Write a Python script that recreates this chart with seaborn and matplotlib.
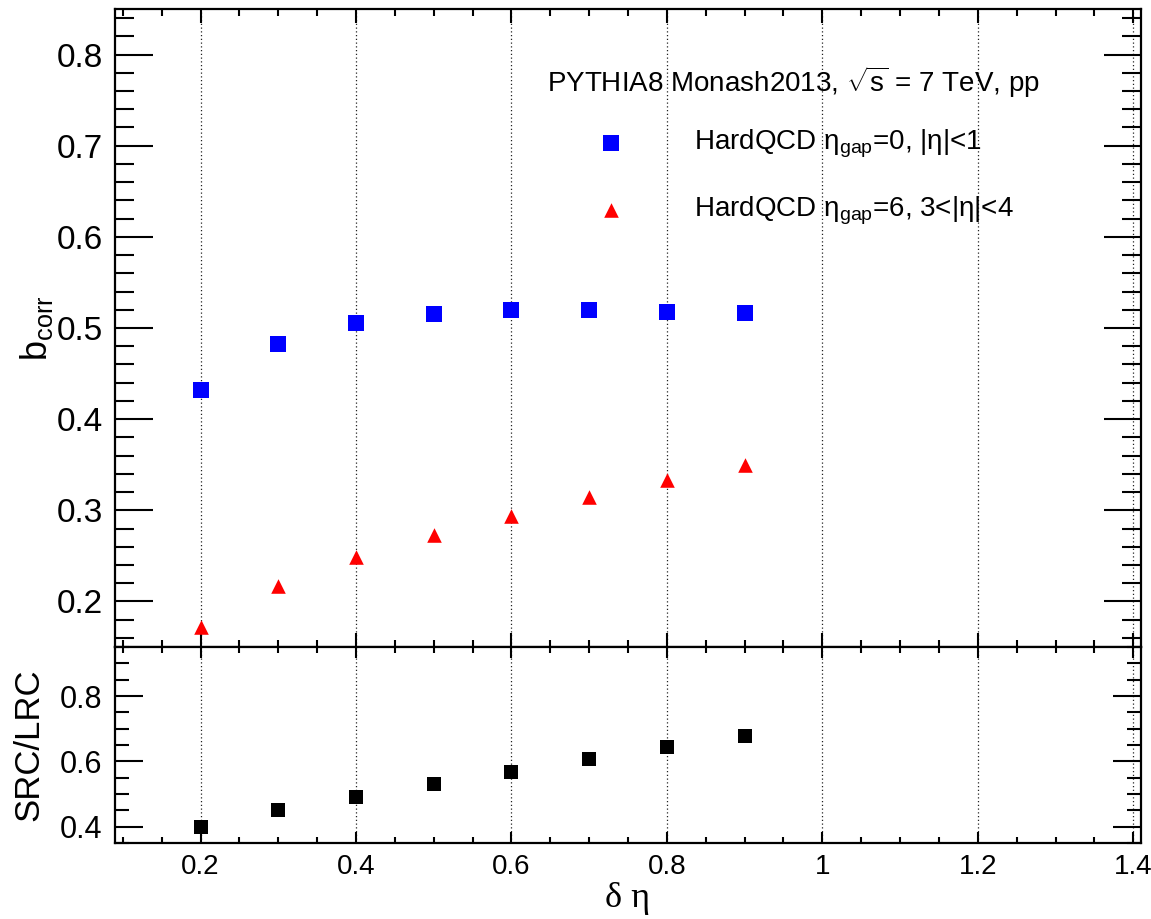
import matplotlib
matplotlib.use("Agg")
import matplotlib.pyplot as plt
import matplotlib.ticker as mticker
import pandas as pd
import seaborn as sns

# Values
delta_eta = [0.2, 0.3, 0.4, 0.5, 0.6, 0.7, 0.8, 0.9]
b_corr_gap0 = [0.432, 0.482, 0.505, 0.515, 0.520, 0.520, 0.518, 0.517]
b_corr_gap6 = [0.172, 0.217, 0.249, 0.273, 0.294, 0.315, 0.333, 0.350]
src_lrc = [0.400, 0.451, 0.492, 0.531, 0.567, 0.608, 0.643, 0.679]

label_gap0 = r"HardQCD η$_{\mathregular{gap}}$=0, |η|<1"
label_gap6 = r"HardQCD η$_{\mathregular{gap}}$=6, 3<|η|<4"
header = r"PYTHIA8 Monash2013, $\sqrt{\mathregular{s}}$ = 7 TeV, pp"

sns.set_theme(style="ticks", rc={"text.color": "black", "axes.labelcolor": "black",
                                 "xtick.color": "black", "ytick.color": "black",
                                 "axes.edgecolor": "black"})
plt.rcParams["font.family"] = ["Liberation Sans", "DejaVu Sans"]
plt.rcParams["mathtext.fontset"] = "custom"
plt.rcParams["mathtext.rm"] = "Liberation Sans"
plt.rcParams["mathtext.it"] = "Liberation Sans:italic"
plt.rcParams["axes.linewidth"] = 1.6

top_df = pd.DataFrame({"delta_eta": delta_eta, "gap0": b_corr_gap0, "gap6": b_corr_gap6})
low_df = pd.DataFrame({"delta_eta": delta_eta, "ratio": src_lrc})

W, H = 1151, 919
fig = plt.figure(figsize=(W / 100, H / 100), dpi=100)
left, right = 115 / W, 1141 / W
ax_top = fig.add_axes([left, 1 - 647 / H, right - left, (647 - 9) / H])
ax_low = fig.add_axes([left, 1 - 843 / H, right - left, (843 - 647) / H], sharex=ax_top)

sns.scatterplot(data=top_df, x="delta_eta", y="gap0", ax=ax_top, marker="s", s=121,
                color="#0000ff", linewidth=0, label=label_gap0, zorder=3)
sns.scatterplot(data=top_df, x="delta_eta", y="gap6", ax=ax_top, marker="^", s=110,
                color="#ff0000", linewidth=0, label=label_gap6, zorder=3)
sns.scatterplot(data=low_df, x="delta_eta", y="ratio", ax=ax_low, marker="s", s=115,
                color="black", linewidth=0, zorder=3)

ax_top.set_xlim(0.09, 1.41)
ax_top.set_ylim(0.15, 0.85)
ax_low.set_ylim(0.35, 0.95)

fmt = mticker.FuncFormatter(lambda v, p: f"{v:g}")
for ax in (ax_top, ax_low):
    ax.xaxis.set_major_locator(mticker.MultipleLocator(0.2))
    ax.xaxis.set_minor_locator(mticker.MultipleLocator(0.05))
    ax.xaxis.set_major_formatter(fmt)
    ax.yaxis.set_major_formatter(fmt)
    ax.grid(axis="x", which="major", linestyle=(0, (1, 2)), linewidth=0.9, color="#222222")
    ax.tick_params(which="both", direction="in", top=True, right=True, width=1.5,
                   color="black", labelcolor="black")
    for s in ax.spines.values():
        s.set_linewidth(1.6)
        s.set_color("black")
    ax.set_axisbelow(True)

ax_top.yaxis.set_major_locator(mticker.MultipleLocator(0.1))
ax_top.yaxis.set_minor_locator(mticker.MultipleLocator(0.02))
ax_low.yaxis.set_major_locator(mticker.MultipleLocator(0.2))
ax_low.yaxis.set_minor_locator(mticker.MultipleLocator(0.05))

ax_top.tick_params(axis="y", which="major", length=27, labelsize=24, pad=9)
ax_top.tick_params(axis="y", which="minor", length=13.5)
ax_top.tick_params(axis="x", which="major", length=10)
ax_top.tick_params(axis="x", which="minor", length=5)
ax_top.tick_params(axis="x", labelbottom=False)

ax_low.tick_params(axis="y", which="major", length=20, labelsize=22, pad=9)
ax_low.tick_params(axis="y", which="minor", length=10)
ax_low.tick_params(axis="x", which="major", length=8, labelsize=20, pad=8)
ax_low.tick_params(axis="x", which="minor", length=4)

ax_top.set_xlabel("")
ax_top.set_ylabel(r"b$_{\mathregular{corr}}$", fontsize=26)
ax_top.yaxis.set_label_coords(-0.058, 0.5)
ax_low.set_ylabel("SRC/LRC", fontsize=25)
ax_low.yaxis.set_label_coords(-0.068, 0.5)
ax_low.set_xlabel("δ η", fontsize=26, family=["Liberation Serif", "DejaVu Serif"])
ax_low.xaxis.set_label_coords(0.5, -0.2)

fig.text(547 / W, 1 - 92 / H, header, fontsize=20, va="baseline", ha="left")

ax_top.legend(loc="upper left", bbox_to_anchor=(597 / W, 1 - 128 / H),
              bbox_transform=fig.transFigure, frameon=False, fontsize=20,
              borderpad=0, borderaxespad=0, handlelength=1.0,
              handletextpad=2.5, labelspacing=1.25)

fig.savefig("out.png", dpi=100)
